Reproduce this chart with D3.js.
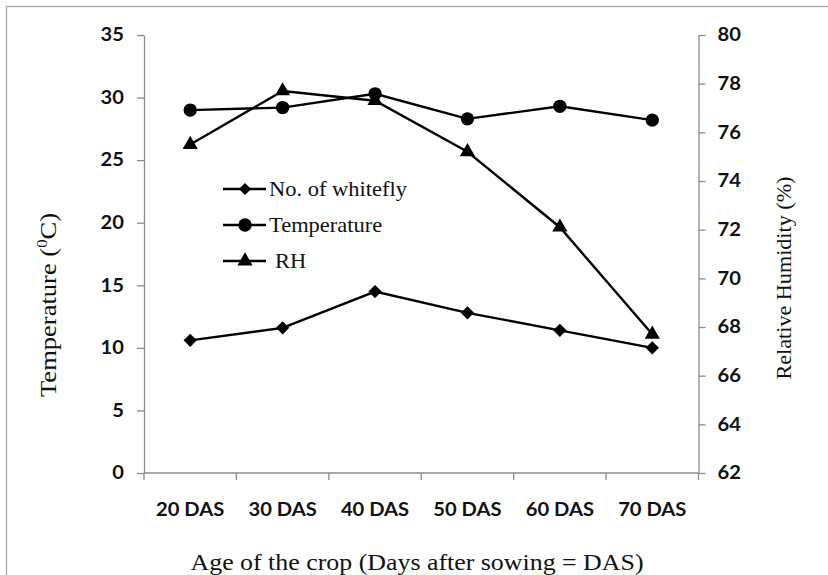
<!DOCTYPE html>
<html>
<head>
<meta charset="utf-8">
<script src="https://cdn.jsdelivr.net/npm/d3@7"></script>
<style>
  body { margin: 0; background: #fff; }
</style>
</head>
<body>
<svg id="chart" width="828" height="575"></svg>
<script>
// Whitefly counts, temperature and relative humidity by crop age.
const categories = ["20 DAS", "30 DAS", "40 DAS", "50 DAS", "60 DAS", "70 DAS"];
const whitefly = [10.6, 11.6, 14.5, 12.8, 11.4, 10.0];
const temperature = [29.0, 29.2, 30.3, 28.3, 29.3, 28.2];
const humidity = [75.5, 77.7, 77.3, 75.2, 72.1, 67.7];
const leftTicks = [0, 5, 10, 15, 20, 25, 30, 35];
const rightTicks = [62, 64, 66, 68, 70, 72, 74, 76, 78, 80];

const svg = d3.select("#chart");
const margin = { top: 35, right: 130, bottom: 102, left: 144 };
const width = +svg.attr("width");
const height = +svg.attr("height");
const plotRight = 698.5;
const plotBottom = height - margin.bottom;

// the source picture is a little wider than its fonts, so text is stretched to fit
function stretch(sel, k) {
  sel.each(function() {
    const len = this.getComputedTextLength();
    d3.select(this)
      .attr("textLength", len * k)
      .attr("lengthAdjust", "spacingAndGlyphs");
  });
}

// outer frame (right and bottom edges fall outside the picture)
svg.append("rect")
  .attr("x", 6.5)
  .attr("y", 6.5)
  .attr("width", 900)
  .attr("height", 900)
  .attr("fill", "none")
  .attr("stroke", "#a6a6a6")
  .attr("stroke-width", 1.3);

const x = d3.scaleBand()
  .domain(categories)
  .range([margin.left, plotRight])
  .paddingInner(0)
  .paddingOuter(0);

const yLeft = d3.scaleLinear()
  .domain([0, 35])
  .range([plotBottom, margin.top]);

const yRight = d3.scaleLinear()
  .domain([62, 80])
  .range([plotBottom, margin.top]);

const axisColor = "#8c8c8c";
const tickFont = "Lato, 'Open Sans', sans-serif";
const titleFont = "'Liberation Serif', 'DejaVu Serif', serif";

function styleAxis(axis) {
  axis.selectAll(".domain, .tick line").attr("stroke", axisColor).attr("stroke-width", 1.3);
  axis.selectAll("text")
    .attr("fill", "#111")
    .attr("font-family", tickFont)
    .attr("font-weight", 700)
    .attr("font-size", 18);
}

svg.append("g")
  .attr("transform", `translate(${margin.left},0)`)
  .call(d3.axisLeft(yLeft).tickValues(leftTicks).tickSize(7).tickSizeOuter(0).tickPadding(13))
  .call(styleAxis)
  .call(a => stretch(a.selectAll("text"), 1.12));

svg.append("g")
  .attr("transform", `translate(${plotRight},0)`)
  .call(d3.axisRight(yRight).tickValues(rightTicks).tickSize(7).tickSizeOuter(0).tickPadding(12))
  .call(styleAxis)
  .call(a => stretch(a.selectAll("text"), 1.12));

// category axis: ticks sit on the band boundaries, labels under band centres
const xAxis = svg.append("g")
  .attr("transform", `translate(0,${plotBottom})`);

xAxis.append("line")
  .attr("x1", margin.left)
  .attr("x2", plotRight)
  .attr("stroke", axisColor)
  .attr("stroke-width", 1.3);

const bounds = categories.map(c => x(c)).concat([plotRight]);
xAxis.selectAll(".xtick")
  .data(bounds)
  .join("line")
  .attr("class", "xtick")
  .attr("x1", d => d)
  .attr("x2", d => d)
  .attr("y1", 0)
  .attr("y2", 7)
  .attr("stroke", axisColor)
  .attr("stroke-width", 1.3);

xAxis.selectAll(".xlabel")
  .data(categories)
  .join("text")
  .attr("class", "xlabel")
  .attr("x", d => x(d) + x.bandwidth() / 2)
  .attr("y", 43)
  .attr("text-anchor", "middle")
  .attr("fill", "#111")
  .attr("font-family", tickFont)
  .attr("font-weight", 700)
  .attr("font-size", 18)
  .text(d => d)
  .call(t => stretch(t, 1.12));

// axis titles
svg.append("text")
  .attr("x", 417)
  .attr("y", 570)
  .attr("text-anchor", "middle")
  .attr("font-family", titleFont)
  .attr("font-size", 24)
  .attr("fill", "#111")
  .text("Age of the crop (Days after sowing = DAS)")
  .attr("textLength", 453)
  .attr("lengthAdjust", "spacingAndGlyphs");

const leftTitle = svg.append("text")
  .attr("transform", "translate(56,305) rotate(-90)")
  .attr("text-anchor", "middle")
  .attr("font-family", titleFont)
  .attr("font-size", 24)
  .attr("fill", "#111")
  .attr("textLength", 184)
  .attr("lengthAdjust", "spacingAndGlyphs");
leftTitle.append("tspan").text("Temperature (");
leftTitle.append("tspan").attr("font-size", 15).attr("dy", -9).text("0");
leftTitle.append("tspan").attr("dy", 9).text("C)");

svg.append("text")
  .attr("transform", "translate(791,278) rotate(-90)")
  .attr("text-anchor", "middle")
  .attr("font-family", titleFont)
  .attr("font-size", 22)
  .attr("fill", "#111")
  .text("Relative Humidity (%)")
  .attr("textLength", 203)
  .attr("lengthAdjust", "spacingAndGlyphs");

// series
const series = [
  { name: "No. of whitefly", values: whitefly, y: yLeft, shape: "diamond" },
  { name: "Temperature", values: temperature, y: yLeft, shape: "circle" },
  { name: "RH", values: humidity, y: yRight, shape: "triangle" }
];

function marker(shape, scale) {
  const k = scale || 1;
  if (shape === "circle") return d3.symbol(d3.symbolCircle, 140 * k * k)();
  if (shape === "triangle") return d3.symbol(d3.symbolTriangle, 100 * k * k)();
  return d3.symbol(d3.symbolSquare, 88 * k * k)();
}

function markerTransform(shape, px, py) {
  return shape === "diamond"
    ? `translate(${px},${py}) rotate(45)`
    : `translate(${px},${py})`;
}

const line = d3.line();

series.forEach(s => {
  const pts = s.values.map((v, i) => [x(categories[i]) + x.bandwidth() / 2, s.y(v)]);

  svg.append("path")
    .attr("d", line(pts))
    .attr("fill", "none")
    .attr("stroke", "#000")
    .attr("stroke-width", 2.4);

  svg.append("g")
    .selectAll("path")
    .data(pts)
    .join("path")
    .attr("d", marker(s.shape))
    .attr("transform", d => markerTransform(s.shape, d[0], d[1]))
    .attr("fill", "#000");
});

// legend inside the plot
const legend = svg.append("g");
const legendY = [189, 225, 261];

series.forEach((s, i) => {
  const row = legend.append("g")
    .attr("transform", `translate(0,${legendY[i]})`);

  row.append("line")
    .attr("x1", 223)
    .attr("x2", 266)
    .attr("stroke", "#000")
    .attr("stroke-width", 2.4);

  row.append("path")
    .attr("d", marker(s.shape, s.shape === "diamond" ? 0.9 : 1))
    .attr("transform", markerTransform(s.shape, 245, 0))
    .attr("fill", "#000");

  row.append("text")
    .attr("x", s.name === "RH" ? 275 : 269)
    .attr("y", 7)
    .attr("font-family", titleFont)
    .attr("font-size", 21)
    .attr("fill", "#111")
    .text(s.name)
    .call(t => stretch(t, 1.07));
});
</script>
</body>
</html>
